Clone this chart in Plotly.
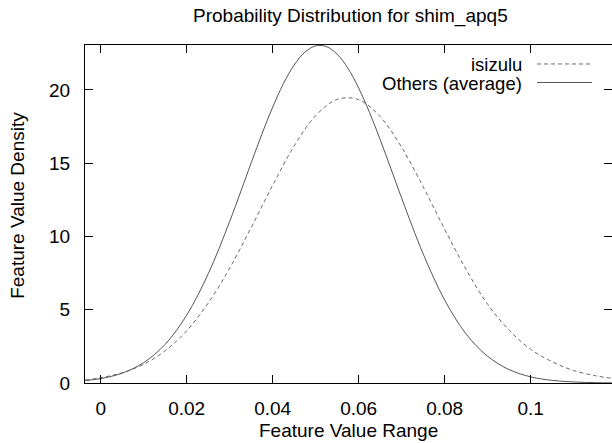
import plotly.graph_objects as go

# ---- data ----
others_x = [-0.0036, 0.0, 0.005, 0.01, 0.015, 0.02, 0.025, 0.03, 0.035, 0.0375, 0.04,
            0.0425, 0.045, 0.0475, 0.05, 0.0525, 0.055, 0.0575, 0.06, 0.0625, 0.065,
            0.0675, 0.07, 0.075, 0.08, 0.085, 0.09, 0.095, 0.1,
            0.105, 0.11, 0.115, 0.1189]
others_y = [0.16, 0.30, 0.67, 1.39, 2.64, 4.63, 7.45, 11.03, 15.03, 17.0, 18.83,
            20.43, 21.71, 22.58, 23.01, 22.96, 22.44, 21.48, 20.13, 18.48, 16.61,
            14.62, 12.61, 8.81, 5.66, 3.34, 1.82, 0.91, 0.42,
            0.18, 0.07, 0.025, 0.01]

isizulu_x = [-0.0036, 0.0, 0.005, 0.01, 0.015, 0.02, 0.025, 0.03, 0.035, 0.04, 0.045,
             0.05, 0.055, 0.06, 0.065, 0.07, 0.075, 0.08, 0.085, 0.09, 0.095, 0.1,
             0.105, 0.11, 0.115, 0.1189]
isizulu_y = [0.21, 0.36, 0.70, 1.28, 2.20, 3.57, 5.45, 7.84, 10.61, 13.50, 16.18,
             18.25, 19.36, 19.34, 18.18, 16.08, 13.39, 10.49, 7.74, 5.37, 3.6, 2.3,
             1.45, 0.85, 0.5, 0.32]

x_ticks = [0, 0.02, 0.04, 0.06, 0.08, 0.1]
x_tick_text = ["0", "0.02", "0.04", "0.06", "0.08", "0.1"]
y_ticks = [0, 5, 10, 15, 20]
y_tick_text = ["0", "5", "10", "15", "20"]

series_names = ["isizulu", "Others (average)"]
title_text = "Probability Distribution for shim_apq5"
x_title = "Feature Value Range"
y_title = "Feature Value Density"

# ---- layout constants (pixels) ----
W, H = 612, 443
L, R, T, B = 85, 612, 45, 383.3
PW, PH = R - L, B - T
FONT = "Liberation Sans, Arial, Helvetica, sans-serif"
FS = 19


def px(xp):
    return (xp - L) / PW


def py(yp):
    return (B - yp) / PH


fig = go.Figure()
fig.add_trace(go.Scatter(x=isizulu_x, y=isizulu_y, mode="lines", name=series_names[0],
                         line=dict(color="#6a6a6a", width=1, dash="4px,3px",
                                   shape="spline", smoothing=1.0),
                         showlegend=False))
fig.add_trace(go.Scatter(x=others_x, y=others_y, mode="lines", name=series_names[1],
                         line=dict(color="#555555", width=1, shape="spline", smoothing=1.0),
                         showlegend=False))
# invisible trace to activate the right-side (mirror tick) axis
fig.add_trace(go.Scatter(x=[], y=[], yaxis="y2", showlegend=False, hoverinfo="skip"))

axis_font = dict(family=FONT, size=FS, color="#000000")
legend_font = dict(family=FONT, size=18.5, color="#000000")

fig.update_layout(
    width=W, height=H,
    margin=dict(l=L, r=W - R, t=T, b=H - B, pad=0),
    paper_bgcolor="white", plot_bgcolor="white",
    font=axis_font,
    showlegend=False,
    xaxis=dict(range=[-0.00365, 0.11891], tickvals=x_ticks, ticktext=x_tick_text,
               ticks="inside", ticklen=8, tickwidth=1.2, tickcolor="#000",
               showline=True, linecolor="#000", linewidth=1.2, mirror="ticks",
               showgrid=False, zeroline=False, tickfont=axis_font,
               ticklabelstandoff=8),
    yaxis=dict(range=[0, 23.07], tickvals=y_ticks, ticktext=y_tick_text,
               ticks="inside", ticklen=8, tickwidth=1.2, tickcolor="#000",
               showline=True, linecolor="#000", linewidth=1.2, mirror=False,
               showgrid=False, zeroline=False, tickfont=axis_font,
               ticklabelstandoff=10),
    yaxis2=dict(range=[0, 23.07], tickvals=y_ticks, overlaying="y", side="right",
                anchor="x", ticks="inside", ticklen=8, tickwidth=1.2, tickcolor="#000",
                showline=False, showgrid=False, zeroline=False, showticklabels=False),
)

annotations = [
    dict(text=title_text, x=px(350), y=py(16), xref="paper", yref="paper",
         xanchor="center", yanchor="middle", showarrow=False, font=axis_font),
    dict(text=x_title, x=px(348), y=py(431), xref="paper", yref="paper",
         xanchor="center", yanchor="middle", showarrow=False, font=axis_font),
    dict(text=y_title, x=px(18), y=py(206), xref="paper", yref="paper",
         xanchor="center", yanchor="middle", textangle=-90, showarrow=False, font=axis_font),
    dict(text=series_names[0], x=px(524), y=py(64.5), xref="paper", yref="paper",
         xanchor="right", yanchor="middle", showarrow=False, font=legend_font),
    dict(text=series_names[1], x=px(524), y=py(83.5), xref="paper", yref="paper",
         xanchor="right", yanchor="middle", showarrow=False, font=legend_font),
]
fig.update_layout(annotations=annotations)

shapes = [
    dict(type="line", xref="paper", yref="paper", x0=px(537), x1=px(592), y0=py(64), y1=py(64),
         line=dict(color="#6a6a6a", width=1, dash="4px,3px")),
    dict(type="line", xref="paper", yref="paper", x0=px(537), x1=px(592), y0=py(82.5), y1=py(82.5),
         line=dict(color="#555555", width=1)),
]
fig.update_layout(shapes=shapes)

fig.write_html("out.html", config={"displayModeBar": False},
               post_script="document.body.style.margin='0';")
